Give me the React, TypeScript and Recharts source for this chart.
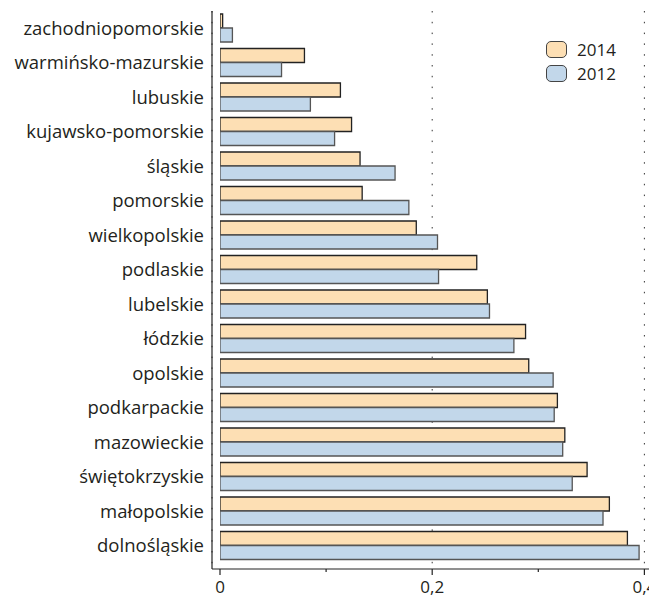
import React from "react";
import {
  BarChart,
  Bar,
  XAxis,
  YAxis,
  CartesianGrid,
  Legend,
} from "recharts";

const categories = [
  "zachodniopomorskie",
  "warmińsko-mazurskie",
  "lubuskie",
  "kujawsko-pomorskie",
  "śląskie",
  "pomorskie",
  "wielkopolskie",
  "podlaskie",
  "lubelskie",
  "łódzkie",
  "opolskie",
  "podkarpackie",
  "mazowieckie",
  "świętokrzyskie",
  "małopolskie",
  "dolnośląskie",
];

const values2014 = [
  0.0025, 0.0796, 0.1135, 0.124, 0.132, 0.134, 0.185, 0.242, 0.252, 0.288,
  0.291, 0.318, 0.325, 0.346, 0.367, 0.384,
];

const values2012 = [
  0.0117, 0.058, 0.0852, 0.108, 0.165, 0.178, 0.205, 0.206, 0.254, 0.277,
  0.314, 0.315, 0.323, 0.332, 0.361, 0.395,
];

const xTicks = [0, 0.1, 0.2, 0.3, 0.4];
const labelledTicks = [0, 0.2, 0.4];
const gridTicks = [0.2, 0.4];

const seriesNames = ["2014", "2012"];

const data = categories.map((name, i) => ({
  name,
  y2014: values2014[i],
  y2012: values2012[i],
}));

const FONT = "'Open Sans', sans-serif";
const TEXT = "#231f20";

const styles: Record<string, { fill: string; stroke: string }> = {
  "2014": { fill: "#fddfb4", stroke: "#222222" },
  "2012": { fill: "#c2d7ea", stroke: "#555555" },
};

const XTick = (props: any) => {
  const { x, y, payload } = props;
  const v = payload.value as number;
  const major = labelledTicks.some((t) => Math.abs(t - v) < 1e-9);
  return (
    <g>
      <line x1={x} x2={x} y1={y} y2={y + (major ? 6 : 3)} stroke="#222" strokeWidth={1.2} />
      {major && (
        <text
          x={x}
          y={y + 24}
          textAnchor="middle"
          fontFamily={FONT}
          fontSize={17}
          fill={TEXT}
        >
          {String(v).replace(".", ",")}
        </text>
      )}
    </g>
  );
};

const LegendContent = () => (
  <div style={{ fontFamily: FONT, fontSize: 17, color: TEXT, lineHeight: "17px" }}>
    {seriesNames.map((n) => (
      <div key={n} style={{ display: "flex", alignItems: "center", height: 23.5 }}>
        <div
          style={{
            width: 19,
            height: 15,
            borderRadius: 5,
            border: `1.5px solid #444`,
            background: styles[n].fill,
            marginRight: 10,
          }}
        />
        <span>{n}</span>
      </div>
    ))}
  </div>
);

export default function App() {
  return (
    <BarChart
      width={649}
      height={591}
      data={data}
      layout="vertical"
      margin={{ top: 3, right: 2, bottom: 0, left: 0 }}
      barGap={0}
      barSize={14}
    >
      <CartesianGrid
        horizontal={false}
        vertical={true}
        xAxisId="grid"
        stroke="#333"
        strokeDasharray="1.5 9.3"
      />
      <XAxis
        xAxisId="grid"
        type="number"
        domain={[0, 0.41]}
        ticks={gridTicks}
        padding={{ left: 8, right: 0 }}
        hide
        allowDataOverflow
      />
      <XAxis
        type="number"
        domain={[0, 0.41]}
        ticks={xTicks}
        padding={{ left: 8, right: 0 }}
        allowDataOverflow
        axisLine={{ stroke: "#222", strokeWidth: 1.2 }}
        tickLine={false}
        tickSize={0}
        tickMargin={0}
        height={30}
        interval={0}
        tick={<XTick />}
      />
      <YAxis
        type="category"
        dataKey="name"
        width={204}
        padding={{ top: 0, bottom: 6 }}
        axisLine={{ stroke: "#222", strokeWidth: 1.2 }}
        tickLine={false}
        tickSize={0}
        tickMargin={8}
        interval={0}
        tick={{ fontFamily: FONT, fontSize: 18.5, fill: TEXT }}
      />
      <Legend
        layout="vertical"
        align="center"
        verticalAlign="middle"
        content={<LegendContent />}
        wrapperStyle={{ top: 30, left: 538, width: 90 }}
      />
      <Bar
        dataKey="y2014"
        name="2014"
        fill={styles["2014"].fill}
        stroke={styles["2014"].stroke}
        strokeWidth={1.3}
        isAnimationActive={false}
      />
      <Bar
        dataKey="y2012"
        name="2012"
        fill={styles["2012"].fill}
        stroke={styles["2012"].stroke}
        strokeWidth={1.3}
        isAnimationActive={false}
      />
    </BarChart>
  );
}
